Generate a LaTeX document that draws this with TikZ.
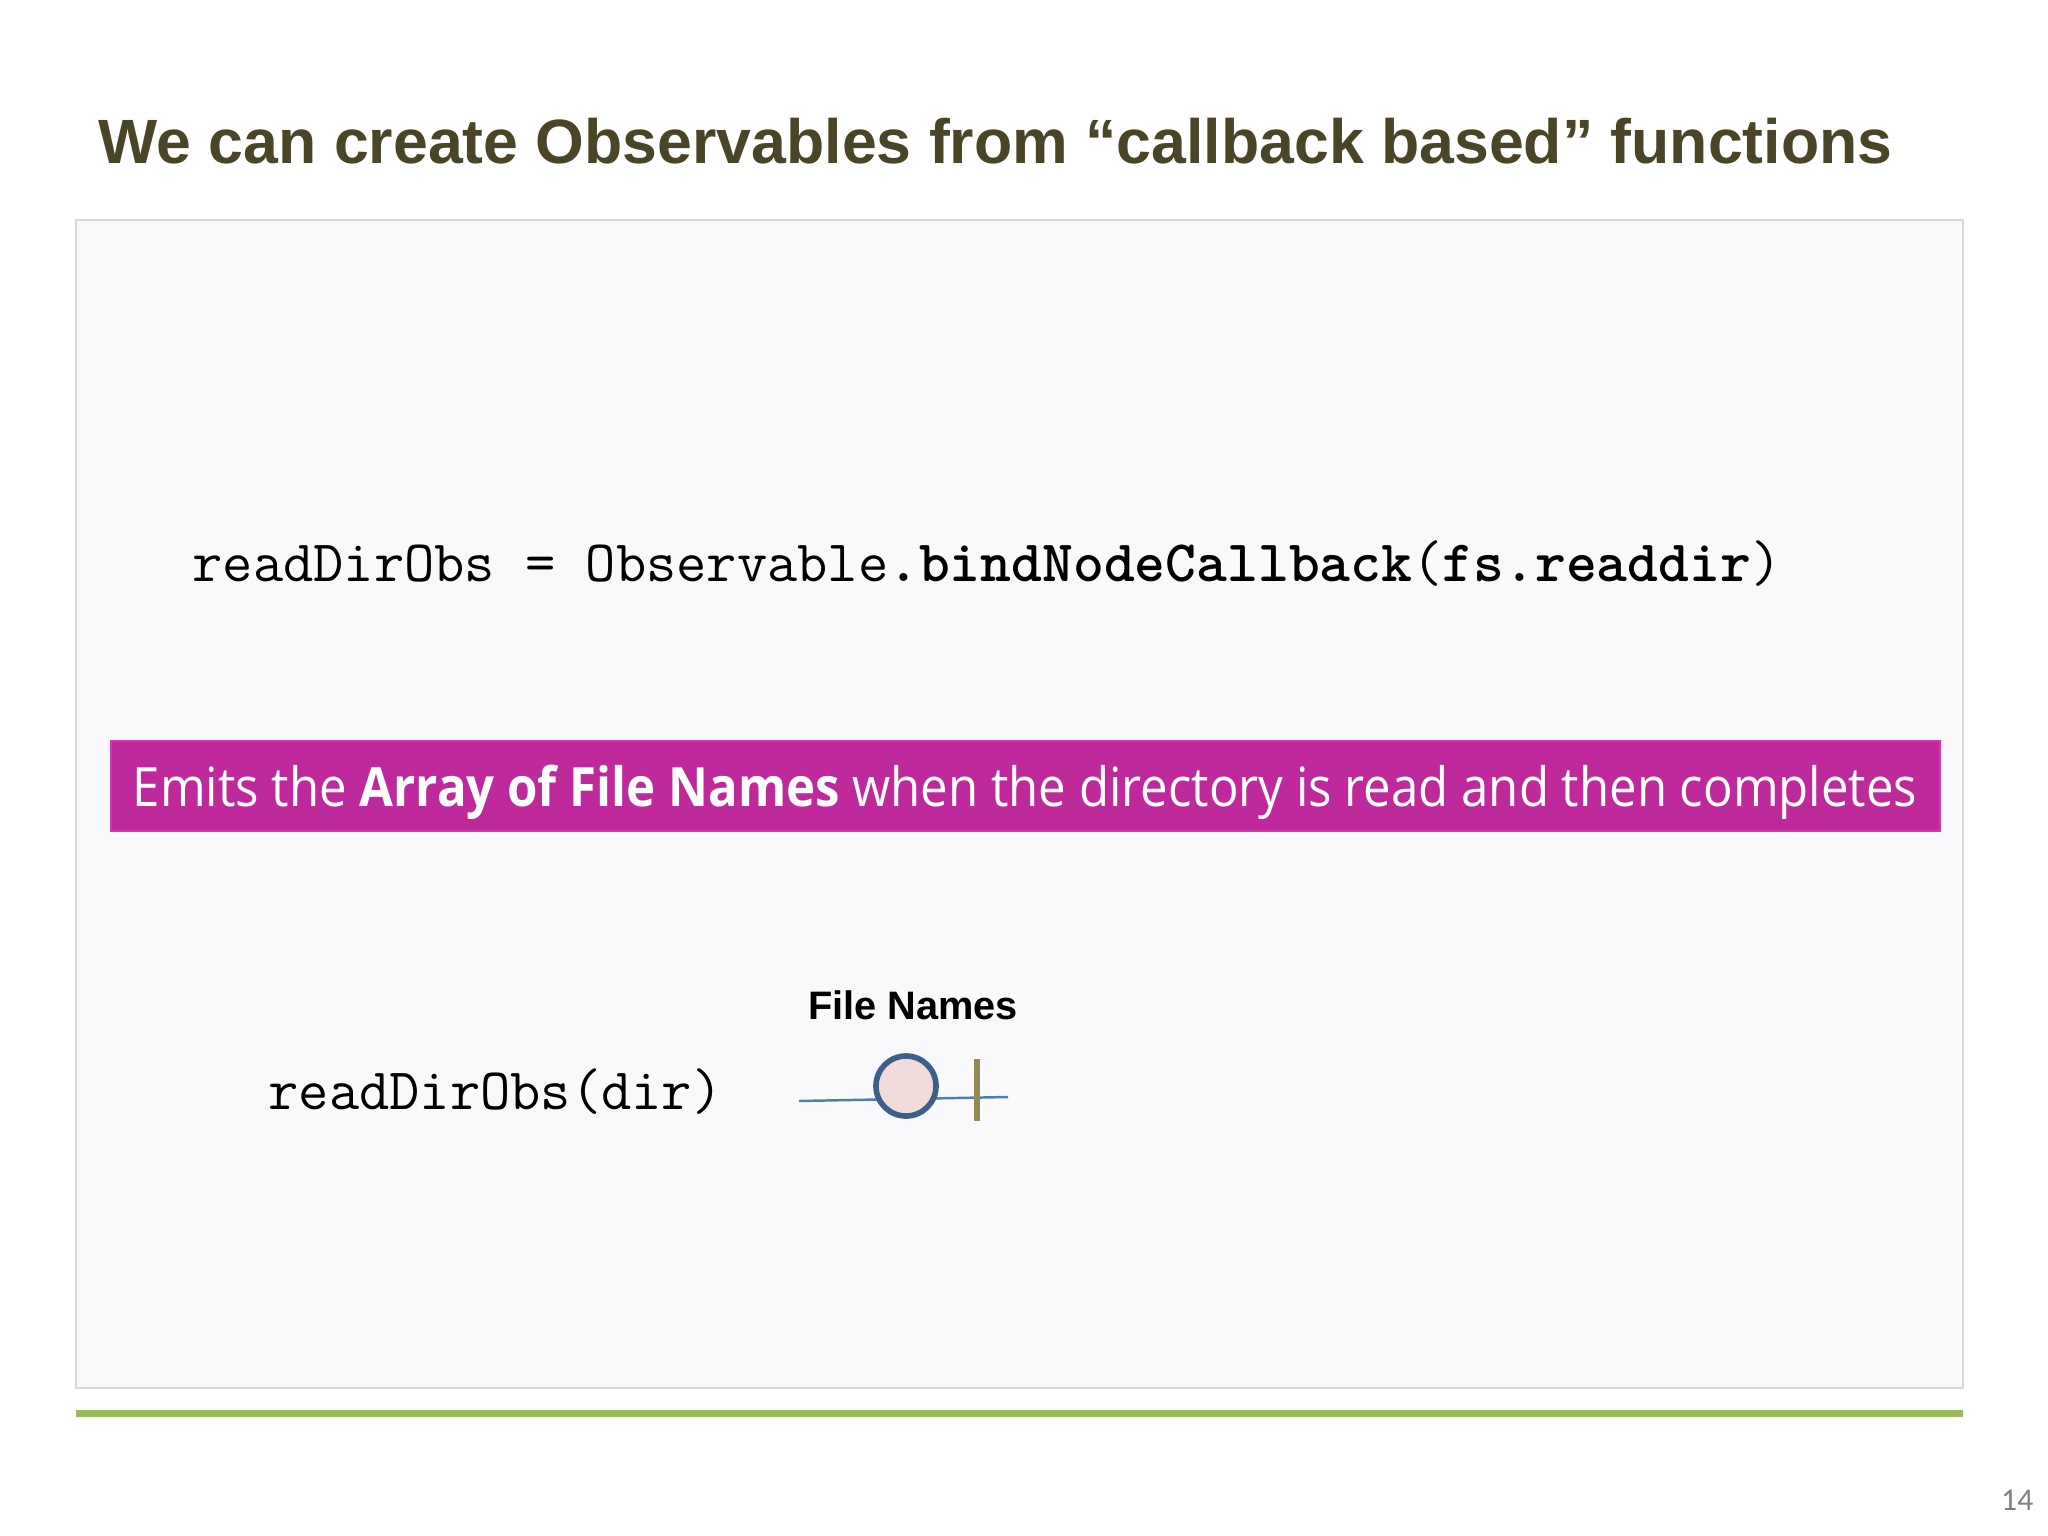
\documentclass[tikz,border=0pt]{standalone}
\usepackage{fontspec}
\usepackage{xcolor}
\setmainfont{Liberation Sans}
\newfontfamily\barfont[FakeStretch=0.907]{Open Sans}
\newfontfamily\pagefont{Carlito}
\definecolor{titleolive}{HTML}{4A4526}
\definecolor{panelfill}{HTML}{F9F8FA}
\definecolor{panelline}{HTML}{D9D9D9}
\definecolor{rulegreen}{HTML}{9BBB59}
\definecolor{barmagenta}{HTML}{BE2A9C}
\definecolor{barline}{HTML}{D236B0}
\definecolor{streamblue}{HTML}{4F7DB5}
\definecolor{marbleline}{HTML}{3C5F8C}
\definecolor{marblefill}{HTML}{F2DCDB}
\definecolor{doneolive}{HTML}{948A54}
\usetikzlibrary{positioning}

\tikzset{
  code/.style={anchor=base west,inner sep=0pt,font=\ttfamily\fontsize{16.7}{18}\selectfont},
  marble/.style={circle,draw=marbleline,fill=marblefill,line width=1.6pt,minimum size=0.6cm,inner sep=0pt}
}

\begin{document}
\begin{tikzpicture}[x=0.01cm,y=-0.01cm]
      \useasboundingbox[fill=white] (0,0) rectangle (2048,1536);
      % panel and rule
      \draw[panelline,fill=panelfill,line width=0.6pt] (76,220) rectangle (1963,1388);
      \fill[rulegreen] (76,1410) rectangle (1963,1417);
      % title
      \node[anchor=base west,inner sep=0pt,text=titleolive,font=\bfseries\fontsize{17.8}{21}\selectfont] (title) at (98,163)
        {We can create Observables from “callback based” functions};
      % code line
      \node[code] (decl) at (192,581)
        {readDirObs = Observable\textbf{.bindNodeCallback}(\textbf{fs.readdir})};
      % magenta bar
      \draw[barline,fill=barmagenta,line width=0.8pt] (111,741) rectangle (1940,831);
      \node[anchor=base,inner sep=0pt,text=white,font=\barfont\fontsize{15.4}{18}\selectfont] (emits) at (1025,806)
        {Emits the \textbf{Array of File Names} when the directory is read and then completes};
      % marble diagram
      \node[code] (call) at (268,1109) {readDirObs(dir)};
      \coordinate (tl0) at (799,1101);
      \coordinate (tl1) at (1008,1097);
      \draw[streamblue,line width=0.7pt] (tl0) -- (tl1);
      \node[marble] (names) at (906,1086) {};
      \coordinate (done0) at (977,1059);
      \coordinate (done1) at (977,1121);
      \draw[doneolive,line width=1.5pt] (done0) -- (done1);
      \node[anchor=base,inner sep=0pt,font=\bfseries\fontsize{11.3}{13}\selectfont] (label) at (913,1019) {File Names};
      % page number
      \node[anchor=base east,inner sep=0pt,text=gray,font=\pagefont\fontsize{9}{11}\selectfont] (page) at (2034,1510) {14};
\end{tikzpicture}
\end{document}
